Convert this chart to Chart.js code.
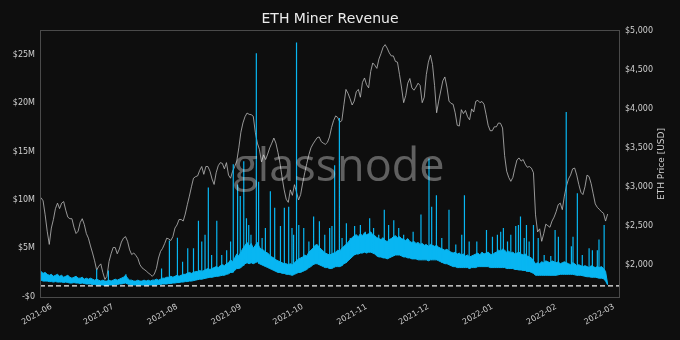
<!DOCTYPE html>
<html>
<head>
<meta charset="utf-8">
<title>ETH Miner Revenue</title>
<script src="https://cdn.jsdelivr.net/npm/chart.js@4.4.1/dist/chart.umd.min.js"></script>
<style>
  html, body { margin: 0; padding: 0; background: #0e0e0e; }
  #wrap { width: 680px; height: 340px; }
</style>
</head>
<body>
<div id="wrap"><canvas id="minerRevenueChart" width="680" height="340"></canvas></div>
<script>
// day 0 = 2021-06-01, one value per day starting at startDay
const startDay = -5;

const monthDays = [0, 30, 61, 92, 122, 153, 183, 214, 245, 273];
const monthLabels = ['2021-06', '2021-07', '2021-08', '2021-09', '2021-10', '2021-11', '2021-12', '2022-01', '2022-02', '2022-03'];

const revenueTicks = [0, 5, 10, 15, 20, 25];
const revenueTickLabels = ['-$0', '$5M', '$10M', '$15M', '$20M', '$25M'];
const priceTicks = [2000, 2500, 3000, 3500, 4000, 4500, 5000];

// miner revenue, daily upper edge of the hourly band (USD millions)
const revenueHigh = [
    2.6, 2.4, 2.5, 2.3, 2.2, 2.3, 2.1, 2.2, 2.3, 2.1,
    2.2, 2.0, 2.1, 2.2, 2.0, 1.9, 2.0, 2.1, 1.9, 1.9,
    2.0, 1.8, 1.9, 1.8, 1.9, 1.8, 1.7, 1.8, 1.7, 1.6,
    1.7, 1.6, 1.6, 1.7, 1.6, 1.7, 1.8, 1.7, 1.8, 1.9,
    2.0, 2.2, 1.9, 1.7, 1.7, 1.6, 1.6, 1.7, 1.6, 1.6,
    1.7, 1.6, 1.7, 1.6, 1.7, 1.7, 1.8, 1.7, 1.8, 1.9,
    1.9, 2.0, 2.0, 2.1, 2.0, 2.1, 2.2, 2.1, 2.2, 2.3,
    2.3, 2.4, 2.5, 2.4, 2.5, 2.6, 2.6, 2.7, 2.6, 2.7,
    2.8, 2.9, 2.8, 2.9, 3.0, 3.1, 3.0, 3.2, 3.3, 3.2,
    3.4, 3.5, 3.8, 3.6, 4.0, 4.4, 4.2, 4.6, 5.0, 5.3,
    5.6, 5.2, 5.5, 5.0, 5.3, 5.6, 5.1, 4.9, 4.8, 4.6,
    4.5, 4.3, 4.1, 4.0, 3.8, 3.7, 3.6, 3.5, 3.4, 3.4,
    3.3, 3.4, 3.3, 3.5, 3.7, 3.9, 4.0, 4.1, 4.3, 4.2,
    4.6, 4.8, 5.0, 5.3, 5.4, 5.1, 4.9, 4.7, 4.5, 4.4,
    4.3, 4.4, 4.5, 4.6, 4.8, 4.7, 5.0, 5.2, 5.4, 5.6,
    5.9, 6.1, 6.3, 6.4, 6.2, 6.5, 6.3, 6.6, 6.4, 6.5,
    6.7, 6.4, 6.3, 6.1, 6.0, 5.9, 6.1, 5.8, 5.7, 5.9,
    6.0, 6.2, 6.3, 6.1, 6.2, 6.0, 5.9, 5.8, 6.0, 5.7,
    5.6, 5.7, 5.5, 5.6, 5.4, 5.5, 5.3, 5.4, 5.2, 5.4,
    5.3, 5.2, 5.3, 5.1, 5.0, 4.9, 4.8, 4.9, 4.7, 4.6,
    4.5, 4.6, 4.4, 4.5, 4.3, 4.4, 4.2, 4.3, 4.1, 4.2,
    4.3, 4.4, 4.5, 4.3, 4.6, 4.4, 4.5, 4.6, 4.4, 4.3,
    4.5, 4.6, 4.8, 4.7, 4.9, 4.8, 4.6, 4.7, 4.5, 4.6,
    4.4, 4.5, 4.6, 4.4, 4.3, 4.4, 4.2, 4.1, 4.0, 3.7,
    3.4, 3.5, 3.4, 3.6, 3.5, 3.7, 3.6, 3.5, 3.7, 3.6,
    3.5, 3.6, 3.4, 3.5, 3.6, 3.5, 3.4, 3.3, 3.5, 3.4,
    3.2, 3.3, 3.2, 3.1, 3.2, 3.1, 3.0, 3.2, 3.1, 3.0,
    3.1, 3.0, 3.1, 2.9, 2.6, 1.3
];

// miner revenue, daily lower edge of the hourly band (USD millions)
const revenueLow = [
    1.7, 1.6, 1.6, 1.6, 1.55, 1.55, 1.5, 1.55, 1.5, 1.5,
    1.5, 1.45, 1.5, 1.45, 1.4, 1.4, 1.45, 1.4, 1.4, 1.35,
    1.4, 1.35, 1.3, 1.3, 1.3, 1.25, 1.25, 1.2, 1.2, 1.2,
    1.2, 1.15, 1.15, 1.2, 1.2, 1.2, 1.25, 1.25, 1.3, 1.3,
    1.35, 1.4, 1.3, 1.25, 1.2, 1.2, 1.2, 1.2, 1.2, 1.2,
    1.2, 1.2, 1.2, 1.2, 1.2, 1.2, 1.2, 1.25, 1.25, 1.3,
    1.3, 1.3, 1.35, 1.35, 1.4, 1.4, 1.45, 1.45, 1.5, 1.5,
    1.55, 1.55, 1.6, 1.6, 1.65, 1.7, 1.75, 1.8, 1.8, 1.85,
    1.9, 1.95, 2.0, 2.0, 2.05, 2.1, 2.1, 2.15, 2.2, 2.2,
    2.3, 2.35, 2.5, 2.5, 2.7, 2.9, 2.9, 3.0, 3.2, 3.4,
    3.5, 3.4, 3.5, 3.4, 3.5, 3.6, 3.4, 3.3, 3.2, 3.1,
    3.0, 2.9, 2.8, 2.7, 2.6, 2.5, 2.5, 2.4, 2.4, 2.3,
    2.3, 2.25, 2.2, 2.3, 2.4, 2.5, 2.5, 2.6, 2.7, 2.8,
    3.0, 3.1, 3.3, 3.4, 3.4, 3.3, 3.2, 3.1, 3.0, 3.0,
    2.9, 2.9, 3.0, 3.1, 3.1, 3.1, 3.2, 3.4, 3.5, 3.7,
    3.9, 4.1, 4.3, 4.4, 4.4, 4.5, 4.5, 4.6, 4.5, 4.6,
    4.6, 4.5, 4.4, 4.2, 4.1, 4.1, 4.0, 4.0, 3.9, 4.0,
    4.1, 4.2, 4.3, 4.3, 4.3, 4.2, 4.1, 4.1, 4.0, 4.0,
    3.9, 3.9, 3.9, 3.8, 3.8, 3.8, 3.8, 3.8, 3.7, 3.8,
    3.8, 3.8, 3.8, 3.7, 3.6, 3.5, 3.4, 3.4, 3.3, 3.2,
    3.1, 3.1, 3.0, 3.0, 3.0, 3.0, 3.0, 3.0, 2.9, 3.0,
    3.0, 3.0, 3.1, 3.1, 3.1, 3.1, 3.1, 3.1, 3.0, 3.0,
    3.0, 3.0, 3.0, 3.0, 3.0, 3.0, 2.9, 2.9, 2.9, 2.9,
    2.8, 2.8, 2.75, 2.75, 2.7, 2.7, 2.6, 2.6, 2.5, 2.4,
    2.2, 2.2, 2.2, 2.2, 2.2, 2.2, 2.2, 2.2, 2.2, 2.2,
    2.2, 2.25, 2.3, 2.3, 2.3, 2.3, 2.3, 2.3, 2.3, 2.25,
    2.2, 2.2, 2.2, 2.15, 2.1, 2.05, 2.05, 2.0, 2.0, 2.0,
    1.95, 1.9, 1.9, 1.85, 1.6, 1.2
];

// ETH price, USD
const ethPrice = [
    2860, 2820, 2640, 2430, 2260, 2470, 2580, 2720, 2790, 2720,
    2790, 2810, 2700, 2610, 2590, 2590, 2480, 2400, 2430, 2540,
    2590, 2515, 2400, 2340, 2240, 2150, 2050, 1930, 1980, 2010,
    1900, 1810, 1850, 2040, 2140, 2220, 2220, 2140, 2200, 2290,
    2340, 2360, 2300, 2190, 2130, 2150, 2120, 2080, 2000, 1960,
    1940, 1920, 1895, 1875, 1850, 1880, 1950, 2085, 2170, 2210,
    2270, 2340, 2330, 2310, 2360, 2470, 2510, 2580, 2580, 2560,
    2650, 2770, 2880, 3000, 3110, 3130, 3140, 3210, 3260, 3160,
    3260, 3260, 3200, 3100, 3030, 3180, 3270, 3310, 3300, 3230,
    3310, 3150, 3110, 3200, 3260, 3330, 3500, 3700, 3820, 3900,
    3947, 3930, 3926, 3905, 3700, 3560, 3480, 3320, 3410, 3350,
    3420, 3500, 3560, 3626, 3560, 3440, 3300, 3120, 2960, 2840,
    2800, 2960, 2890, 3027, 2930, 2830, 2900, 3050, 3180, 3300,
    3412, 3500, 3550, 3590, 3630, 3640, 3580, 3560, 3545, 3570,
    3640, 3760, 3850, 3910, 3890, 3830, 3850, 4054, 4250, 4200,
    4130, 4050, 4100, 4220, 4250, 4150, 4340, 4397, 4311, 4270,
    4480, 4590, 4560, 4520, 4640, 4710, 4790, 4825, 4780, 4720,
    4680, 4680, 4610, 4600, 4440, 4268, 4080, 4170, 4330, 4390,
    4270, 4240, 4280, 4330, 4300, 4080, 4150, 4440, 4600, 4690,
    4570, 4300, 3950, 4100, 4230, 4360, 4410, 4280, 4100, 4070,
    4060, 3950, 3790, 3780, 3990, 3940, 3980, 3900, 3860, 4000,
    3960, 4097, 4110, 4080, 4095, 4060, 3930, 3790, 3720, 3720,
    3770, 3770, 3819, 3815, 3755, 3400, 3200, 3120, 3070, 3120,
    3240, 3345, 3370, 3330, 3350, 3290, 3250, 3260, 3240, 3180,
    2640, 2420, 2460, 2300, 2400, 2520, 2500, 2480, 2560, 2610,
    2680, 2770, 2790, 2706, 2880, 3010, 3100, 3150, 3230, 3240,
    3150, 3030, 2930, 2900, 3000, 3150, 3130, 3040, 2910, 2780,
    2735, 2710, 2680, 2660, 2560, 2650
];

// single-hour revenue spikes: day and peak (USD millions)
const spikeDays = [
    22.0, 27.7, 36.2, 53.5, 57.3, 61.2, 63.7, 66.2, 69.0, 71.4,
    73.0, 74.6, 76.2, 77.8, 80.3, 82.7, 85.1, 87.0, 88.3, 90.4,
    91.7, 93.4, 94.7, 95.8, 96.9, 99.5, 100.6, 102.3, 103.9, 106.3,
    108.4, 111.2, 113.1, 115.2, 116.8, 117.6, 119.0, 120.1, 122.5, 125.0,
    127.3, 130.1, 132.7, 135.1, 136.2, 137.5, 139.8, 141.1, 143.2, 145.1,
    147.2, 150.0, 152.4, 154.5, 156.4, 158.9, 161.6, 163.7, 166.2, 168.6,
    171.0, 175.6, 179.4, 183.3, 184.6, 186.9, 189.5, 193.0, 196.3, 199.2,
    200.5, 202.8, 206.5, 211.2, 214.1, 216.5, 218.1, 219.4, 221.4, 223.0,
    225.4, 226.7, 227.7, 229.5, 230.6, 231.9, 234.0, 236.3, 239.2, 242.4,
    244.5, 246.1, 249.9, 252.4, 253.2, 255.3, 257.7, 261.0, 262.6, 265.0,
    265.8, 268.3
];
const spikeValues = [
    2.8, 2.7, 2.3, 2.9, 5.8, 6.1, 3.6, 5.0, 5.0, 7.85,
    5.7, 6.4, 11.3, 4.3, 7.85, 4.3, 4.8, 5.7, 13.7, 11.6,
    10.4, 14.0, 8.1, 7.4, 6.4, 25.2, 11.9, 6.05, 7.1, 10.9,
    9.2, 7.3, 9.2, 9.3, 7.1, 6.4, 26.3, 7.4, 7.1, 5.7,
    8.3, 7.8, 6.4, 7.1, 7.3, 13.6, 18.5, 6.05, 7.6, 6.05,
    7.3, 7.4, 6.7, 8.1, 7.1, 6.4, 9.0, 7.4, 7.9, 7.1,
    6.4, 6.7, 8.5, 14.3, 9.3, 10.5, 6.05, 9.0, 5.4, 6.4,
    10.5, 5.7, 5.7, 6.9, 6.2, 6.4, 6.7, 7.1, 5.7, 6.4,
    7.3, 7.4, 8.3, 6.05, 7.4, 5.7, 7.4, 6.05, 4.3, 4.2,
    6.9, 6.2, 19.1, 5.2, 6.2, 10.7, 4.3, 5.0, 4.8, 4.8,
    5.9, 7.4
];

const thresholdLevel = 1.1;

const xMin = -5.5;
const xMax = 276;

function toPoints(values) {
    return values.map((v, i) => ({ x: startDay + i, y: v }));
}

// each spike is a vertical segment from the band floor up to its peak
const spikePoints = [];
spikeDays.forEach((d, i) => {
    const base = revenueLow[Math.round(d) - startDay];
    spikePoints.push({ x: d, y: base }, { x: d, y: spikeValues[i] }, { x: d, y: null });
});

const revenueBlue = '#08b6f2';
const tickColor = '#cfcfcf';

const chartDecor = {
    id: 'chartDecor',
    beforeDraw(chart) {
        const ctx = chart.ctx;
        ctx.save();
        ctx.fillStyle = '#0e0e0e';
        ctx.fillRect(0, 0, chart.width, chart.height);
        ctx.restore();
    },
    afterDatasetsDraw(chart) {
        const ctx = chart.ctx;
        ctx.save();
        ctx.fillStyle = 'rgba(255, 255, 255, 0.34)';
        ctx.font = '45px "Open Sans"';
        ctx.textAlign = 'center';
        ctx.textBaseline = 'alphabetic';
        ctx.fillText('glassnode', 339, 181);
        ctx.restore();
    },
    afterDraw(chart) {
        const ctx = chart.ctx;
        const a = chart.chartArea;
        ctx.save();
        ctx.strokeStyle = '#4a4a4a';
        ctx.lineWidth = 1;
        ctx.strokeRect(a.left + 0.5, a.top + 0.5, a.right - a.left - 1, a.bottom - a.top - 1);

        ctx.fillStyle = '#ececec';
        ctx.font = '14px "DejaVu Sans"';
        ctx.textAlign = 'center';
        ctx.textBaseline = 'middle';
        ctx.fillText('ETH Miner Revenue', (a.left + a.right) / 2, 19);

        ctx.fillStyle = tickColor;
        ctx.font = '9px "DejaVu Sans"';
        ctx.translate(662, (a.top + a.bottom) / 2);
        ctx.rotate(-Math.PI / 2);
        ctx.fillText('ETH Price [USD]', 0, 0);
        ctx.restore();
    }
};

const config = {
    type: 'line',
    data: {
        datasets: [
            {
                data: [{ x: xMin, y: thresholdLevel }, { x: xMax, y: thresholdLevel }],
                borderColor: '#f2f2f2',
                borderWidth: 1.3,
                borderDash: [5, 3],
                pointRadius: 0,
                yAxisID: 'revenue'
            },
            {
                data: spikePoints,
                borderColor: revenueBlue,
                borderWidth: 1.2,
                pointRadius: 0,
                spanGaps: false,
                yAxisID: 'revenue'
            },
            {
                data: toPoints(revenueHigh),
                borderColor: revenueBlue,
                backgroundColor: revenueBlue,
                borderWidth: 1,
                pointRadius: 0,
                fill: '+1',
                yAxisID: 'revenue'
            },
            {
                data: toPoints(revenueLow),
                borderColor: revenueBlue,
                borderWidth: 1,
                pointRadius: 0,
                yAxisID: 'revenue'
            },
            {
                data: toPoints(ethPrice),
                borderColor: 'rgba(185, 185, 185, 0.8)',
                borderWidth: 1,
                pointRadius: 0,
                yAxisID: 'price'
            }
        ]
    },
    options: {
        responsive: false,
        animation: false,
        devicePixelRatio: 1,
        layout: { padding: { top: 30, left: 0, right: 0, bottom: 0 } },
        plugins: {
            legend: { display: false },
            tooltip: { enabled: false }
        },
        scales: {
            x: {
                type: 'linear',
                min: xMin,
                max: xMax,
                grid: { display: false, drawTicks: false },
                border: { display: false },
                ticks: {
                    color: tickColor,
                    font: { family: 'DejaVu Sans', size: 8 },
                    minRotation: 30,
                    maxRotation: 30,
                    autoSkip: false,
                    padding: 4,
                    callback: (value) => monthLabels[monthDays.indexOf(value)]
                },
                afterBuildTicks: (scale) => { scale.ticks = monthDays.map(v => ({ value: v })); },
                afterFit: (scale) => { scale.height = 42; }
            },
            revenue: {
                type: 'linear',
                position: 'left',
                min: -0.15,
                max: 27.6,
                grid: { display: false, drawTicks: false },
                border: { display: false },
                ticks: {
                    color: tickColor,
                    font: { family: 'DejaVu Sans', size: 8 },
                    padding: 5,
                    callback: (value) => revenueTickLabels[revenueTicks.indexOf(value)]
                },
                afterBuildTicks: (scale) => { scale.ticks = revenueTicks.map(v => ({ value: v })); },
                afterFit: (scale) => { scale.width = 40; }
            },
            price: {
                type: 'linear',
                position: 'right',
                min: 1572,
                max: 5013,
                grid: { display: false, drawTicks: false },
                border: { display: false },
                ticks: {
                    color: tickColor,
                    font: { family: 'DejaVu Sans', size: 8 },
                    padding: 5,
                    callback: (value) => '$' + value.toLocaleString('en-US')
                },
                afterBuildTicks: (scale) => { scale.ticks = priceTicks.map(v => ({ value: v })); },
                afterFit: (scale) => { scale.width = 60; }
            }
        }
    },
    plugins: [chartDecor]
};

window.onload = function() {
    const ctx = document.getElementById('minerRevenueChart').getContext('2d');
    new Chart(ctx, config);
};
</script>
</body>
</html>
